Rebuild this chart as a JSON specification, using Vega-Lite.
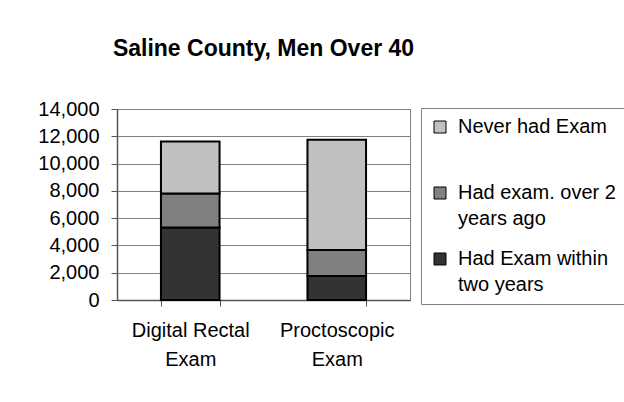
{
  "$schema": "https://vega.github.io/schema/vega-lite/v6.json",
  "autosize": "none",
  "width": 293,
  "height": 191,
  "padding": {"left": 117, "top": 109, "right": 214, "bottom": 102},
  "background": "white",
  "title": {
    "text": "Saline County, Men Over 40",
    "font": "Liberation Sans",
    "fontSize": 23,
    "fontWeight": "bold",
    "color": "black",
    "anchor": "middle",
    "frame": "group",
    "baseline": "alphabetic",
    "offset": 20
  },
  "data": {
    "values": [
      {"exam": "Digital Rectal Exam", "status": "Had Exam within two years", "rank": 1, "count": 5310},
      {"exam": "Digital Rectal Exam", "status": "Had exam. over 2 years ago", "rank": 2, "count": 2490},
      {"exam": "Digital Rectal Exam", "status": "Never had Exam", "rank": 3, "count": 3820},
      {"exam": "Proctoscopic Exam", "status": "Had Exam within two years", "rank": 1, "count": 1760},
      {"exam": "Proctoscopic Exam", "status": "Had exam. over 2 years ago", "rank": 2, "count": 1910},
      {"exam": "Proctoscopic Exam", "status": "Never had Exam", "rank": 3, "count": 8080}
    ]
  },
  "mark": {"type": "bar", "stroke": "black", "strokeWidth": 2},
  "encoding": {
    "x": {
      "field": "exam",
      "type": "nominal",
      "scale": {"paddingInner": 0.6, "paddingOuter": 0.3},
      "axis": {
        "title": null,
        "labelAngle": 0,
        "labelFont": "Liberation Sans",
        "labelFontSize": 20,
        "labelColor": "black",
        "labelLineHeight": 29,
        "labelPadding": 14,
        "labelBaseline": "top",
        "labelExpr": "datum.extra ? '' : datum.label == 'Digital Rectal Exam' ? ['Digital Rectal', 'Exam'] : ['Proctoscopic', 'Exam']",
        "tickBand": "extent",
        "tickSize": 6,
        "tickColor": "#555555",
        "domainColor": "#555555",
        "domainWidth": 1.5
      }
    },
    "y": {
      "field": "count",
      "type": "quantitative",
      "stack": "zero",
      "scale": {"domain": [0, 14000], "nice": false},
      "axis": {
        "title": null,
        "values": [0, 2000, 4000, 6000, 8000, 10000, 12000, 14000],
        "format": ",d",
        "labelFont": "Liberation Sans",
        "labelFontSize": 20,
        "labelColor": "black",
        "labelPadding": 12,
        "tickSize": 6,
        "tickColor": "#555555",
        "domainColor": "#555555",
        "domainWidth": 1.5,
        "grid": true,
        "gridColor": "#808080",
        "gridWidth": 1
      }
    },
    "color": {
      "field": "status",
      "type": "nominal",
      "scale": {
        "domain": ["Never had Exam", "Had exam. over 2 years ago", "Had Exam within two years"],
        "range": ["#C0C0C0", "#808080", "#333333"]
      },
      "legend": {
        "title": null,
        "orient": "none",
        "legendX": 304,
        "legendY": -1,
        "strokeColor": "#808080",
        "padding": 9,
        "symbolType": "square",
        "symbolSize": 144,
        "symbolStrokeColor": "black",
        "symbolStrokeWidth": 1,
        "symbolOpacity": 1,
        "labelFont": "Liberation Sans",
        "labelFontSize": 20,
        "labelColor": "black",
        "labelOffset": 8,
        "labelLimit": 300,
        "rowPadding": 20,
        "labelExpr": "datum.label == 'Had exam. over 2 years ago' ? ['Had exam. over 2', 'years ago'] : datum.label == 'Had Exam within two years' ? ['Had Exam within', 'two years'] : ['Never had Exam', ' ']"
      }
    },
    "order": {"field": "rank", "type": "quantitative"}
  },
  "config": {
    "view": {"stroke": "#808080", "strokeWidth": 1},
    "style": {"guide-label": {"lineHeight": 26}}
  }
}
